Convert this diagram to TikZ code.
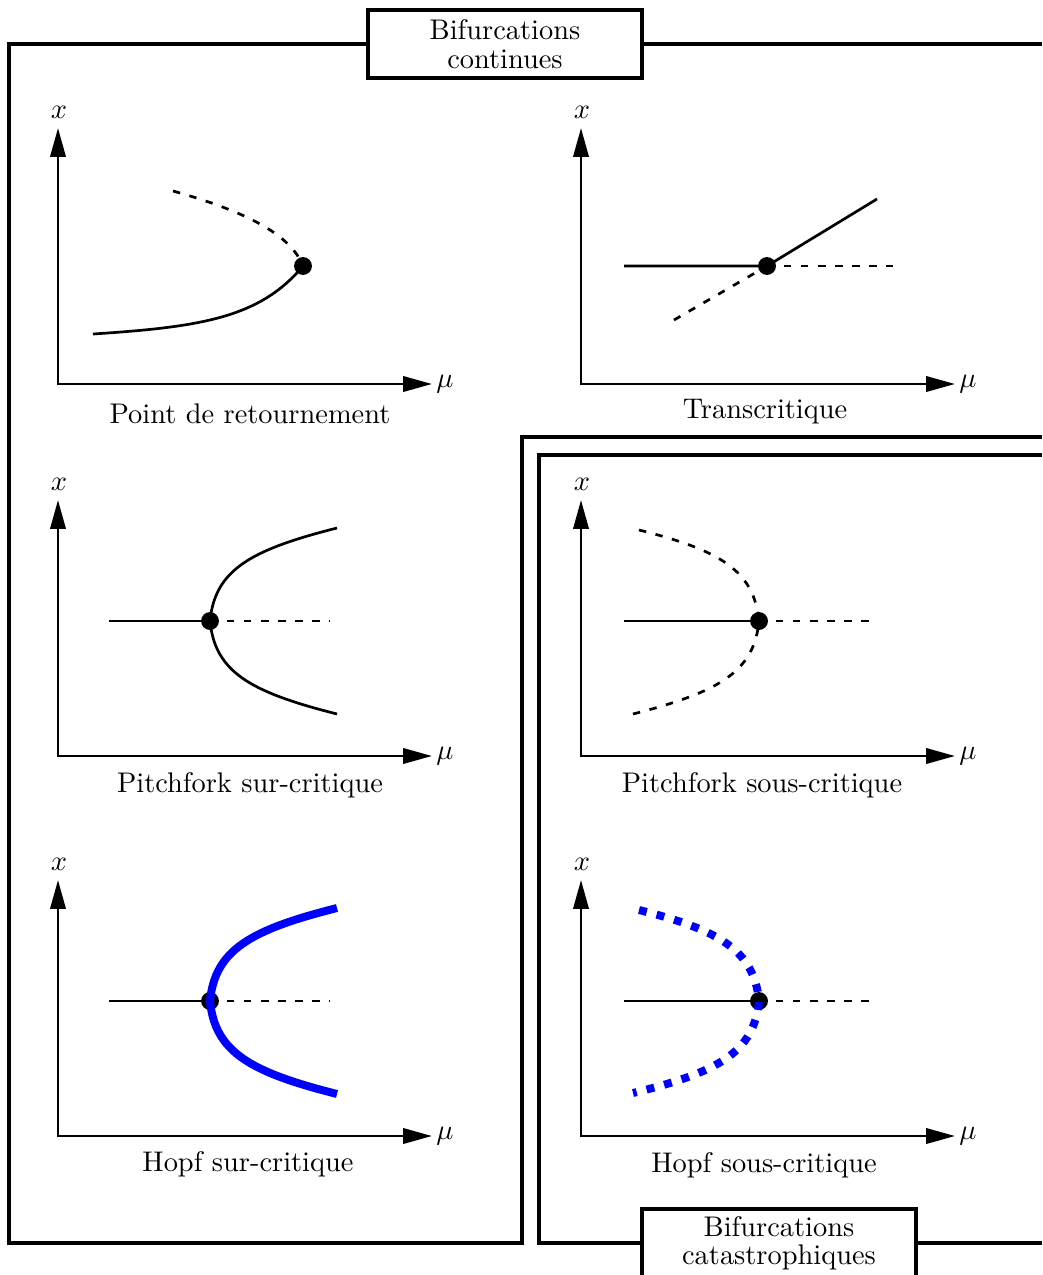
\documentclass[tikz,border=0pt]{standalone}
\usetikzlibrary{arrows.meta}
\begin{document}
\begin{tikzpicture}[x=0.352pt,y=-0.352pt,
  frame/.style={line width=1.15pt},
  axis/.style={line width=0.95pt,{Triangle[length=10.2pt,width=5.4pt]}-{Triangle[length=10.2pt,width=5.4pt]}},
  curve/.style={line width=0.95pt},
  dcurve/.style={line width=0.95pt,dash pattern=on 2.6pt off 3.4pt},
  bluethick/.style={line width=2.8pt,blue},
  bluedot/.style={line width=2.8pt,blue,dash pattern=on 2.8pt off 3.6pt},
  dotnode/.style={circle,fill=black,minimum size=6.3pt,inner sep=0pt},
  titlebox/.style={draw,line width=1.15pt,fill=white,minimum width=96.4pt,minimum height=24pt,align=center,inner sep=0pt,font=\fontsize{10}{10}\selectfont},
  lbl/.style={inner sep=0pt,font=\fontsize{10}{12}\selectfont}]

\useasboundingbox (0,0) rectangle (1042,1275);

% frames
\draw[frame] (1042,44) -- (9,44) -- (9,1243) -- (522,1243) -- (522,437) -- (1042,437);
\draw[frame] (1042,455) -- (539,455) -- (539,1243) -- (1042,1243);
\node[titlebox] (t1) at (505,44) {Bifurcations\\continues};
\node[titlebox] (t2) at (779,1243) {Bifurcations\\catastrophiques};

% axes
\foreach \n/\ox/\oy in {1/58/384, 2/581/384, 3/58/756, 4/581/756, 5/58/1136, 6/581/1136} {
  \coordinate (o\n) at (\ox,\oy);
  \coordinate (ty\n) at (\ox,\oy-256);
  \coordinate (tx\n) at (\ox+374,\oy);
  \draw[axis] (ty\n) -- (o\n) -- (tx\n);
  \node[lbl] (xl\n) at (\ox+1,\oy-272) {$x$};
  \node[lbl] (mu\n) at (\ox+387,\oy) {$\mu$};
}

% captions
\node[lbl] (c1) at (250,414) {Point de retournement};
\node[lbl] (c2) at (765,412) {Transcritique};
\node[lbl] (c3) at (250,785) {Pitchfork sur-critique};
\node[lbl] (c4) at (762,785) {Pitchfork sous-critique};
\node[lbl] (c5) at (248,1164) {Hopf sur-critique};
\node[lbl] (c6) at (764,1165) {Hopf sous-critique};

% panel 1
\node[dotnode] (d1) at (303,266) {};
\coordinate (a1) at (93,334);
\coordinate (b1) at (173,191);
\draw[curve] (a1) .. controls (200,327) and (260,318) .. (d1.center);
\draw[dcurve] (b1) .. controls (255,214) and (292,238) .. (d1.center);

% panel 2
\node[dotnode] (d2) at (767,266) {};
\coordinate (a2) at (624,266);
\coordinate (b2) at (877,199);
\coordinate (e2) at (893,266);
\coordinate (f2) at (674,320);
\draw[curve] (a2) -- (d2.center) -- (b2);
\draw[dcurve] (d2.center) -- (e2);
\draw[dcurve] (f2) -- (d2.center);

% panel 3
\node[dotnode] (d3) at (210,621) {};
\coordinate (a3) at (109,621);
\coordinate (e3) at (330,621);
\coordinate (u3) at (337,528);
\coordinate (l3) at (337,714);
\draw[curve] (a3) -- (d3.center);
\draw[dcurve] (d3.center) -- (e3);
\draw[curve] (u3) .. controls (250,550) and (215,570) .. (d3.center) .. controls (215,672) and (250,692) .. (l3);

% panel 4
\node[dotnode] (d4) at (759,621) {};
\coordinate (a4) at (624,621);
\coordinate (e4) at (877,621);
\coordinate (u4) at (639,530);
\coordinate (l4) at (633,714);
\draw[curve] (a4) -- (d4.center);
\draw[dcurve] (d4.center) -- (e4);
\draw[dcurve] (u4) .. controls (719,550) and (754,570) .. (d4.center);
\draw[dcurve] (l4) .. controls (719,692) and (754,672) .. (d4.center);

% panel 5
\node[dotnode] (d5) at (210,1001) {};
\coordinate (a5) at (109,1001);
\coordinate (e5) at (330,1001);
\coordinate (u5) at (337,908);
\coordinate (l5) at (337,1094);
\draw[curve] (a5) -- (d5.center);
\draw[dcurve] (d5.center) -- (e5);
\draw[bluethick] (u5) .. controls (250,930) and (215,950) .. (d5.center) .. controls (215,1052) and (250,1072) .. (l5);

% panel 6
\node[dotnode] (d6) at (759,1001) {};
\coordinate (a6) at (624,1001);
\coordinate (e6) at (877,1001);
\coordinate (u6) at (639,910);
\coordinate (l6) at (633,1093);
\draw[curve] (a6) -- (d6.center);
\draw[dcurve] (d6.center) -- (e6);
\draw[bluedot] (u6) .. controls (719,930) and (754,950) .. (d6.center) .. controls (754,1052) and (719,1072) .. (l6);
\end{tikzpicture}
\end{document}
